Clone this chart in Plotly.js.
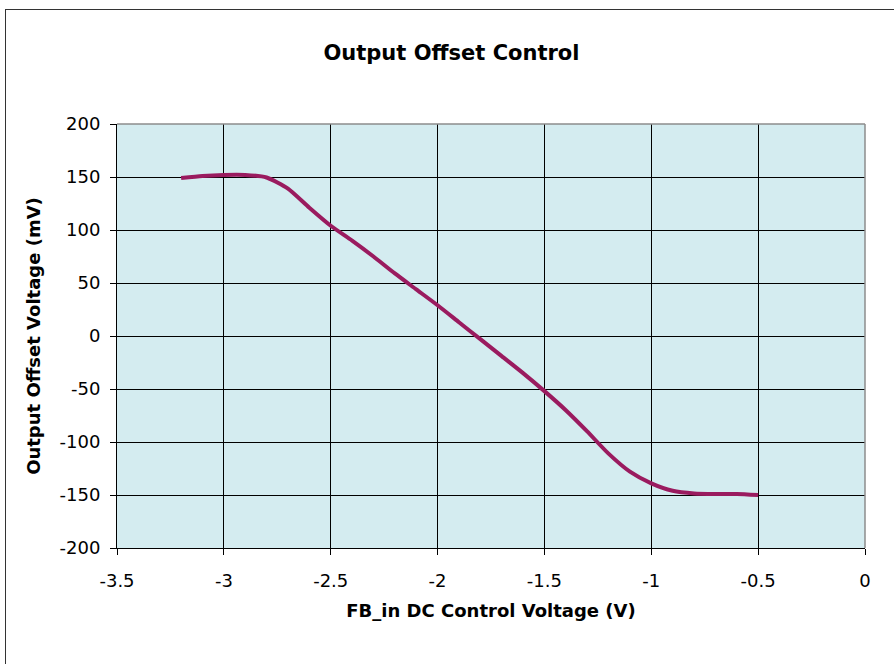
<!DOCTYPE html>
<html>
<head>
<meta charset="utf-8">
<script src="https://cdn.plot.ly/plotly-3.0.1.min.js"></script>
<style>
  html, body { margin: 0; padding: 0; background: #ffffff; overflow: hidden; }
  #chart { position: absolute; left: 0; top: 0; width: 894px; height: 664px; }
  #frame { position: absolute; left: 5px; top: 9px; width: 1200px; height: 1200px;
           border: 1px solid #333333; pointer-events: none; }
</style>
</head>
<body>
<div id="chart"></div>
<div id="frame"></div>
<script>
// FB_in DC control voltage (V)
const controlVoltage = [-3.2, -3.1, -3.0, -2.9, -2.8, -2.7, -2.6, -2.5, -2.4, -2.3, -2.2, -2.1, -2.0,
                        -1.9, -1.8, -1.7, -1.6, -1.5, -1.4, -1.3, -1.2, -1.1, -1.0, -0.9, -0.8, -0.7, -0.6, -0.5];
// Output offset voltage (mV)
const offsetVoltage = [149, 151, 152, 152, 149.5, 139, 121, 104, 90, 75, 59, 44, 29,
                       13, -3, -19, -35, -52, -70, -90, -111, -128, -139, -146, -148.5, -149, -149, -150];

const xTickVals = [-3.5, -3, -2.5, -2, -1.5, -1, -0.5, 0];
const xTickText = ['-3.5', '-3', '-2.5', '-2', '-1.5', '-1', '-0.5', '0'];
const yTickVals = [-200, -150, -100, -50, 0, 50, 100, 150, 200];
const yTickText = ['-200', '-150', '-100', '-50', '0', '50', '100', '150', '200'];

const tickFont = { family: 'DejaVu Sans', size: 18, color: '#000000' };
const titleFont = { family: 'DejaVu Sans', size: 18, color: '#000000', weight: 'bold' };

const trace = {
  x: controlVoltage,
  y: offsetVoltage,
  type: 'scatter',
  mode: 'lines',
  line: { color: '#9A1B5F', width: 4, shape: 'spline', smoothing: 0.6 },
  hoverinfo: 'x+y'
};

const layout = {
  width: 894,
  height: 664,
  margin: { l: 117, r: 29, t: 124, b: 116 },
  paper_bgcolor: '#ffffff',
  plot_bgcolor: '#D4ECF0',
  showlegend: false,
  title: {
    text: 'Output Offset Control',
    font: { family: 'DejaVu Sans', size: 21, color: '#000000', weight: 'bold' },
    xref: 'container', x: 0.505, xanchor: 'center',
    yref: 'container', y: 0.92, yanchor: 'middle'
  },
  xaxis: {
    range: [-3.5, 0],
    tickvals: xTickVals,
    ticktext: xTickText,
    ticks: 'outside', ticklen: 6, tickwidth: 1, tickcolor: '#000000',
    ticklabelstandoff: 10,
    showline: true, linecolor: '#000000', linewidth: 1,
    showgrid: true, gridcolor: '#000000', gridwidth: 1,
    zeroline: false,
    tickfont: tickFont,
    automargin: false,
    title: { text: 'FB_in DC Control Voltage (V)', font: titleFont, standoff: 14 }
  },
  yaxis: {
    range: [-200, 200],
    tickvals: yTickVals,
    ticktext: yTickText,
    ticks: 'outside', ticklen: 6, tickwidth: 1, tickcolor: '#000000',
    ticklabelstandoff: 6,
    showline: true, linecolor: '#000000', linewidth: 1,
    showgrid: true, gridcolor: '#000000', gridwidth: 1,
    zeroline: false,
    tickfont: tickFont,
    automargin: false,
    title: { text: 'Output Offset Voltage (mV)', font: titleFont, standoff: 14 }
  },
  shapes: [
    { type: 'line', xref: 'paper', yref: 'paper', x0: 0, x1: 1, y0: 1, y1: 1,
      line: { color: '#8C8C8C', width: 1.5 }, layer: 'above' },
    { type: 'line', xref: 'paper', yref: 'paper', x0: 1, x1: 1, y0: 0, y1: 1,
      line: { color: '#8C8C8C', width: 1.5 }, layer: 'above' }
  ]
};

Plotly.newPlot('chart', [trace], layout, { displayModeBar: false, staticPlot: true });
</script>
</body>
</html>
